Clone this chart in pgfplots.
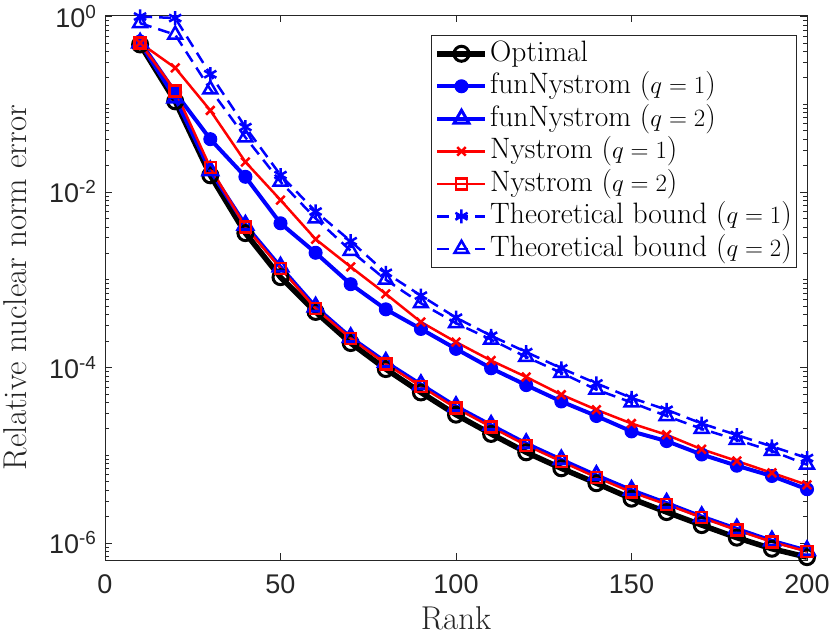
\documentclass[border=0pt]{standalone}
\usepackage{fontspec}
\setsansfont{Liberation Sans}
\usepackage{pgfplots}
\pgfplotsset{compat=1.18}
\begin{document}
\begin{tikzpicture}
\definecolor{axgray}{rgb}{0.15,0.15,0.15}
\begin{axis}[
  scale only axis,
  width=702pt, height=545pt,
  ymode=log,
  xmin=0, xmax=200,
  ymin=6.4e-7, ymax=1.04,
  clip=false,
  axis line style={line width=0.9pt, color=axgray},
  every tick/.style={line width=0.8pt, color=axgray},
  major tick length=7pt, minor tick length=4pt,
  tick align=inside,
  xtick={0,50,100,150,200},
  xticklabels={0,50,100,150,200},
  ytick={1e-6,1e-4,1e-2,1},
  yticklabels={10\textsuperscript{-6},10\textsuperscript{-4},10\textsuperscript{-2},10\textsuperscript{0}},
  minor ytick={7e-7,8e-7,9e-7,
    2e-6,3e-6,4e-6,5e-6,6e-6,7e-6,8e-6,9e-6,1e-5,
    2e-5,3e-5,4e-5,5e-5,6e-5,7e-5,8e-5,9e-5,
    2e-4,3e-4,4e-4,5e-4,6e-4,7e-4,8e-4,9e-4,1e-3,
    2e-3,3e-3,4e-3,5e-3,6e-3,7e-3,8e-3,9e-3,
    2e-2,3e-2,4e-2,5e-2,6e-2,7e-2,8e-2,9e-2,1e-1,
    2e-1,3e-1,4e-1,5e-1,6e-1,7e-1,8e-1,9e-1},
  ticklabel style={font=\fontsize{27}{30}\sffamily, color=axgray},
  xticklabel style={yshift=-11pt},
  yticklabel style={xshift=-5pt},
  xlabel={Rank},
  ylabel={Relative nuclear norm error},
  label style={font=\fontsize{33}{38}\selectfont, color=axgray},
  xlabel style={at={(axis description cs:0.5,-0.107)}, anchor=center, inner sep=1pt},
  ylabel style={at={(axis description cs:-0.128,0.5)}, anchor=center},
  legend style={at={(0.986,0.963)}, anchor=north east,
    font=\fontsize{29.5}{33}\selectfont, draw=axgray, line width=0.7pt,
    nodes={inner sep=2pt, text height=21.5pt, text depth=7pt},
    row sep=0pt, inner xsep=3pt, inner ysep=2pt},
  legend cell align=left,
  legend image code/.code={\draw[mark repeat=2,mark phase=2] plot coordinates {(0pt,0pt) (24pt,0pt) (48pt,0pt)};},
]
% Optimal
\addplot[black, line width=5.5pt, mark=o, mark size=7.5pt, mark options={line width=3pt}] coordinates {
(10,0.48) (20,0.108) (30,0.0155) (40,0.0034) (50,0.00107) (60,4.3e-4) (70,1.9e-4) (80,9.6e-5) (90,5.2e-5) (100,2.9e-5)
(110,1.75e-5) (120,1.08e-5) (130,7.1e-6) (140,4.8e-6) (150,3.2e-6) (160,2.25e-6) (170,1.6e-6) (180,1.15e-6) (190,8.6e-7) (200,6.9e-7)};
\addlegendentry{Optimal}
% funNystrom q=1
\addplot[blue, line width=4pt, mark=*, mark size=6.5pt, mark options={line width=1pt}] coordinates {
(10,0.52) (20,0.136) (30,0.040) (40,0.0149) (50,0.0044) (60,0.00203) (70,8.9e-4) (80,4.6e-4) (90,2.75e-4) (100,1.63e-4)
(110,9.8e-5) (120,6.3e-5) (130,4.1e-5) (140,2.8e-5) (150,1.87e-5) (160,1.45e-5) (170,1.02e-5) (180,7.6e-6) (190,5.8e-6) (200,4.1e-6)};
\addlegendentry{funNystrom ($q=1$)}
% funNystrom q=2
\addplot[blue, line width=4pt, mark=triangle, mark size=8.5pt, mark options={line width=3pt}] coordinates {
(10,0.50) (20,0.118) (30,0.0175) (40,0.0042) (50,0.00140) (60,4.9e-4) (70,2.2e-4) (80,1.15e-4) (90,6.4e-5) (100,3.6e-5)
(110,2.2e-5) (120,1.36e-5) (130,8.9e-6) (140,5.9e-6) (150,4.0e-6) (160,2.85e-6) (170,2.0e-6) (180,1.45e-6) (190,1.06e-6) (200,8.2e-7)};
\addlegendentry{funNystrom ($q=2$)}
% Nystrom q=1
\addplot[red, line width=2.5pt, mark=x, mark size=6pt, mark options={line width=2.5pt}] coordinates {
(10,0.50) (20,0.26) (30,0.085) (40,0.022) (50,0.0081) (60,0.0029) (70,0.0014) (80,6.9e-4) (90,3.3e-4) (100,1.95e-4)
(110,1.2e-4) (120,7.8e-5) (130,4.9e-5) (140,3.3e-5) (150,2.3e-5) (160,1.71e-5) (170,1.17e-5) (180,8.6e-6) (190,6.3e-6) (200,4.6e-6)};
\addlegendentry{Nystrom ($q=1$)}
% Nystrom q=2
\addplot[red, line width=2.5pt, mark=square, mark size=5.5pt, mark options={line width=2.5pt}] coordinates {
(10,0.50) (20,0.142) (30,0.019) (40,0.0040) (50,0.00135) (60,4.7e-4) (70,2.15e-4) (80,1.1e-4) (90,6.1e-5) (100,3.45e-5)
(110,2.1e-5) (120,1.3e-5) (130,8.5e-6) (140,5.6e-6) (150,3.8e-6) (160,2.75e-6) (170,1.95e-6) (180,1.4e-6) (190,1.03e-6) (200,8.0e-7)};
\addlegendentry{Nystrom ($q=2$)}
% Bound q=1
\addplot[blue, line width=2.5pt, dash pattern=on 12pt off 7pt, mark=asterisk, mark size=7pt, mark options={solid, line width=2.5pt}] coordinates {
(10,1.0) (20,0.96) (30,0.22) (40,0.055) (50,0.0156) (60,0.0060) (70,0.00275) (80,1.2e-3) (90,6.6e-4) (100,3.7e-4)
(110,2.3e-4) (120,1.5e-4) (130,9.8e-5) (140,6.6e-5) (150,4.5e-5) (160,3.3e-5) (170,2.3e-5) (180,1.7e-5) (190,1.26e-5) (200,9.3e-6)};
\addlegendentry{Theoretical bound ($q=1$)}
% Bound q=2
\addplot[blue, line width=2.5pt, dash pattern=on 12pt off 7pt, mark=triangle, mark size=8pt, mark options={solid, line width=2.5pt}] coordinates {
(10,0.84) (20,0.62) (30,0.148) (40,0.042) (50,0.0131) (60,0.0050) (70,0.00214) (80,1.0e-3) (90,5.4e-4) (100,3.2e-4)
(110,2.08e-4) (120,1.32e-4) (130,8.7e-5) (140,5.6e-5) (150,4.0e-5) (160,2.8e-5) (170,2.0e-5) (180,1.5e-5) (190,1.12e-5) (200,7.8e-6)};
\addlegendentry{Theoretical bound ($q=2$)}
\end{axis}
\path (current axis.south west) ++(-105pt,-75pt) coordinate (bbA);
\path (current axis.north east) ++(23pt,15pt) coordinate (bbB);
\pgfresetboundingbox
\path (bbA) rectangle (bbB);
\end{tikzpicture}
\end{document}
